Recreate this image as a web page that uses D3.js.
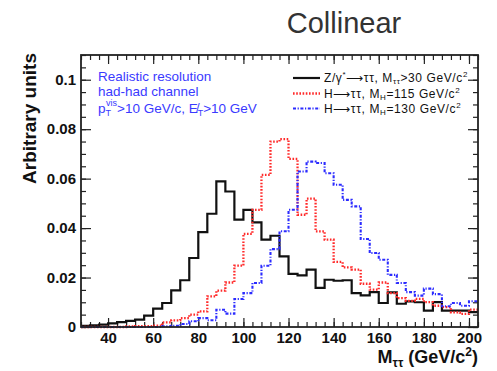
<!DOCTYPE html>
<html lang="en">
<head>
  <meta charset="utf-8">
  <script src="https://d3js.org/d3.v7.min.js"></script>
  <style>
    body { margin: 0; background: #fff; }
    text { font-family: "Liberation Sans", Arial, sans-serif; }
  </style>
</head>
<body>
<script>

var width = 497,
    height = 371;

// bin lower edges (GeV/c^2), 4 GeV bins
var massBins = [28,32,36,40,44,48,52,56,60,64,68,72,76,80,84,88,92,96,100,104,
                108,112,116,120,124,128,132,136,140,144,148,152,156,160,164,168,
                172,176,180,184,188,192,196,200];
var binWidth = 4;

// Z/gamma* -> tautau
var zValues = [0.0005,0.0007,0.001,0.0015,0.002,0.0025,0.003,0.0046,0.0074,0.0097,
               0.0148,0.0189,0.0279,0.0384,0.0458,0.0589,0.0548,0.0434,0.0474,0.0423,
               0.0353,0.0369,0.0286,0.0215,0.0209,0.0232,0.0158,0.0191,0.0187,0.0189,
               0.0137,0.0128,0.0141,0.0097,0.014,0.0094,0.0104,0.01,0.0066,0.0101,
               0.0066,0.0066,0.0066,0.006];

// H -> tautau, MH = 115
var h115Values = [0,0,0,0,0,0.0002,0.0003,0.0003,0.0005,0.0019,
                  0.0027,0.0036,0.005,0.0063,0.0124,0.0147,0.018,0.0248,0.0377,0.0474,
                  0.0615,0.075,0.076,0.068,0.0454,0.0519,0.0387,0.0353,0.0263,0.0241,
                  0.0232,0.0175,0.0151,0.018,0.0137,0.0117,0.0106,0.0114,0.0101,0.0086,
                  0.008,0.0059,0.0053,0.007];

// H -> tautau, MH = 130
var h130Values = [0,0,0,0,0,0,0,0,0,0.0003,
                  0.0005,0.0012,0.0023,0.0036,0.0027,0.007,0.0054,0.0113,0.0137,0.0178,
                  0.0248,0.0315,0.0387,0.0474,0.0629,0.0669,0.0663,0.0622,0.0575,0.0514,
                  0.0488,0.0356,0.0299,0.0272,0.0211,0.0178,0.0141,0.0127,0.0155,0.0133,
                  0.0084,0.0097,0.0086,0.0104];

var xTicks = [40,60,80,100,120,140,160,180,200];
var yTicks = [0,0.02,0.04,0.06,0.08,0.1];
var yTickLabels = ["0","0.02","0.04","0.06","0.08","0.1"];

var frame = {left: 81, right: 478, top: 55, bottom: 327};

var x = d3.scaleLinear().domain([28, 204]).range([frame.left, frame.right]);
var y = d3.scaleLinear().domain([0, 0.11]).range([frame.bottom, frame.top]);

var svg = d3.select("body").append("svg")
    .attr("width", width)
    .attr("height", height);

// title
svg.append("text")
    .attr("x", 344)
    .attr("y", 33)
    .attr("text-anchor", "middle")
    .style("font-size", "29px")
    .style("fill", "#333")
    .text("Collinear");

// minor ticks
var xMinor = d3.range(28, 205, 4);
var yMinor = d3.range(0, 0.1101, 0.005);

function axisGroup(axis, tx, ty) {
  var g = svg.append("g")
      .attr("transform", "translate(" + tx + "," + ty + ")")
      .call(axis);
  g.select(".domain").remove();
  g.selectAll("line").attr("stroke", "#222").attr("stroke-width", 1.2);
  return g;
}

// bottom / top
axisGroup(d3.axisBottom(x).tickValues(xMinor).tickFormat("").tickSize(-5), 0, frame.bottom);
axisGroup(d3.axisTop(x).tickValues(xMinor).tickFormat("").tickSize(-5), 0, frame.top);
axisGroup(d3.axisTop(x).tickValues(xTicks).tickFormat("").tickSize(-9), 0, frame.top);
var xg = axisGroup(d3.axisBottom(x).tickValues(xTicks).tickSize(-9).tickPadding(5), 0, frame.bottom);
xg.selectAll("text")
    .style("font-size", "15px")
    .style("font-weight", "bold")
    .attr("fill", "#111");

// left / right
axisGroup(d3.axisLeft(y).tickValues(yMinor).tickFormat("").tickSize(-5), frame.left, 0);
axisGroup(d3.axisRight(y).tickValues(yMinor).tickFormat("").tickSize(-5), frame.right, 0);
axisGroup(d3.axisRight(y).tickValues(yTicks).tickFormat("").tickSize(-10), frame.right, 0);
var yg = axisGroup(d3.axisLeft(y).tickValues(yTicks)
    .tickFormat(function(d, i) { return yTickLabels[i]; })
    .tickSize(-10).tickPadding(5), frame.left, 0);
yg.selectAll("text")
    .style("font-size", "15px")
    .style("font-weight", "bold")
    .attr("fill", "#111");

// histograms
function stepPoints(vals) {
  var pts = vals.map(function(v, i) { return [massBins[i], v]; });
  pts.push([massBins[massBins.length - 1] + binWidth, vals[vals.length - 1]]);
  return pts;
}

var line = d3.line()
    .x(function(d) { return x(d[0]); })
    .y(function(d) { return y(d[1]); })
    .curve(d3.curveStepAfter);

var series = [
  {vals: zValues,    color: "#111",    dash: null,              w: 2.2},
  {vals: h115Values, color: "#ff2a2a", dash: "1.6,1.6",         w: 2.3},
  {vals: h130Values, color: "#2b2bff", dash: "3,1.6,1.2,1.6",   w: 2.1}
];

series.forEach(function(s) {
  svg.append("path")
      .attr("d", line(stepPoints(s.vals)))
      .attr("fill", "none")
      .attr("stroke", s.color)
      .attr("stroke-width", s.w)
      .attr("stroke-dasharray", s.dash);
});

// frame
svg.append("rect")
    .attr("x", frame.left)
    .attr("y", frame.top)
    .attr("width", frame.right - frame.left)
    .attr("height", frame.bottom - frame.top)
    .attr("fill", "none")
    .attr("stroke", "#222")
    .attr("stroke-width", 1.8);

// axis titles
svg.append("text")
    .attr("transform", "translate(36,53) rotate(-90)")
    .attr("text-anchor", "end")
    .style("font-size", "19px")
    .style("font-weight", "bold")
    .attr("fill", "#111")
    .text("Arbitrary units");

var xl = svg.append("text")
    .attr("x", 478)
    .attr("y", 363)
    .attr("text-anchor", "end")
    .style("font-size", "18px")
    .style("font-weight", "bold")
    .attr("fill", "#111");
xl.append("tspan").text("M");
xl.append("tspan").attr("dy", 4).style("font-size", "12px").text("ττ");
xl.append("tspan").attr("dy", -4).text(" (GeV/c");
xl.append("tspan").attr("dy", -7).style("font-size", "12px").text("2");
xl.append("tspan").attr("dy", 7).text(")");

// info text
var info = svg.append("g").attr("fill", "#3a3aff").style("font-size", "13.5px");
info.append("text").attr("x", 98).attr("y", 81).text("Realistic resolution");
info.append("text").attr("x", 98).attr("y", 96).text("had-had channel");
var t3 = info.append("text").attr("x", 98).attr("y", 113);
t3.append("tspan").text("p");
t3.append("tspan").attr("dy", 3).style("font-size", "9px").text("T");
t3.append("tspan").attr("dx", -5).attr("dy", -10).style("font-size", "9px").text("vis");
t3.append("tspan").attr("dy", 7).text(">10 GeV/c, E\u0338");
t3.append("tspan").attr("dy", 3).style("font-size", "9px").text("T");
t3.append("tspan").attr("dy", -3).text(">10 GeV");

// legend
var legendItems = [
  {s: series[0], parts: [["Z/γ", 0], ["*", -5, 8], ["⟶ττ, M", 5], ["ττ", 2, 8], [">30 GeV/c", -2], ["2", -5, 8]]},
  {s: series[1], parts: [["H⟶ττ, M", 0], ["H", 2, 8], ["=115 GeV/c", -2], ["2", -5, 8]]},
  {s: series[2], parts: [["H⟶ττ, M", 0], ["H", 2, 8], ["=130 GeV/c", -2], ["2", -5, 8]]}
];
var legendY = [82, 97.5, 112.5];

legendItems.forEach(function(item, i) {
  var ly = legendY[i];
  svg.append("line")
      .attr("x1", 293).attr("x2", 320)
      .attr("y1", ly - 4).attr("y2", ly - 4)
      .attr("stroke", item.s.color)
      .attr("stroke-width", item.s.w)
      .attr("stroke-dasharray", item.s.dash);
  var t = svg.append("text")
      .attr("x", 324).attr("y", ly)
      .style("font-size", "12px")
      .style("letter-spacing", "0.6px")
      .attr("fill", "#111");
  item.parts.forEach(function(p) {
    var ts = t.append("tspan").attr("dy", p[1]).text(p[0]);
    if (p[2]) ts.style("font-size", p[2] + "px");
  });
});

</script>
</body>
</html>
